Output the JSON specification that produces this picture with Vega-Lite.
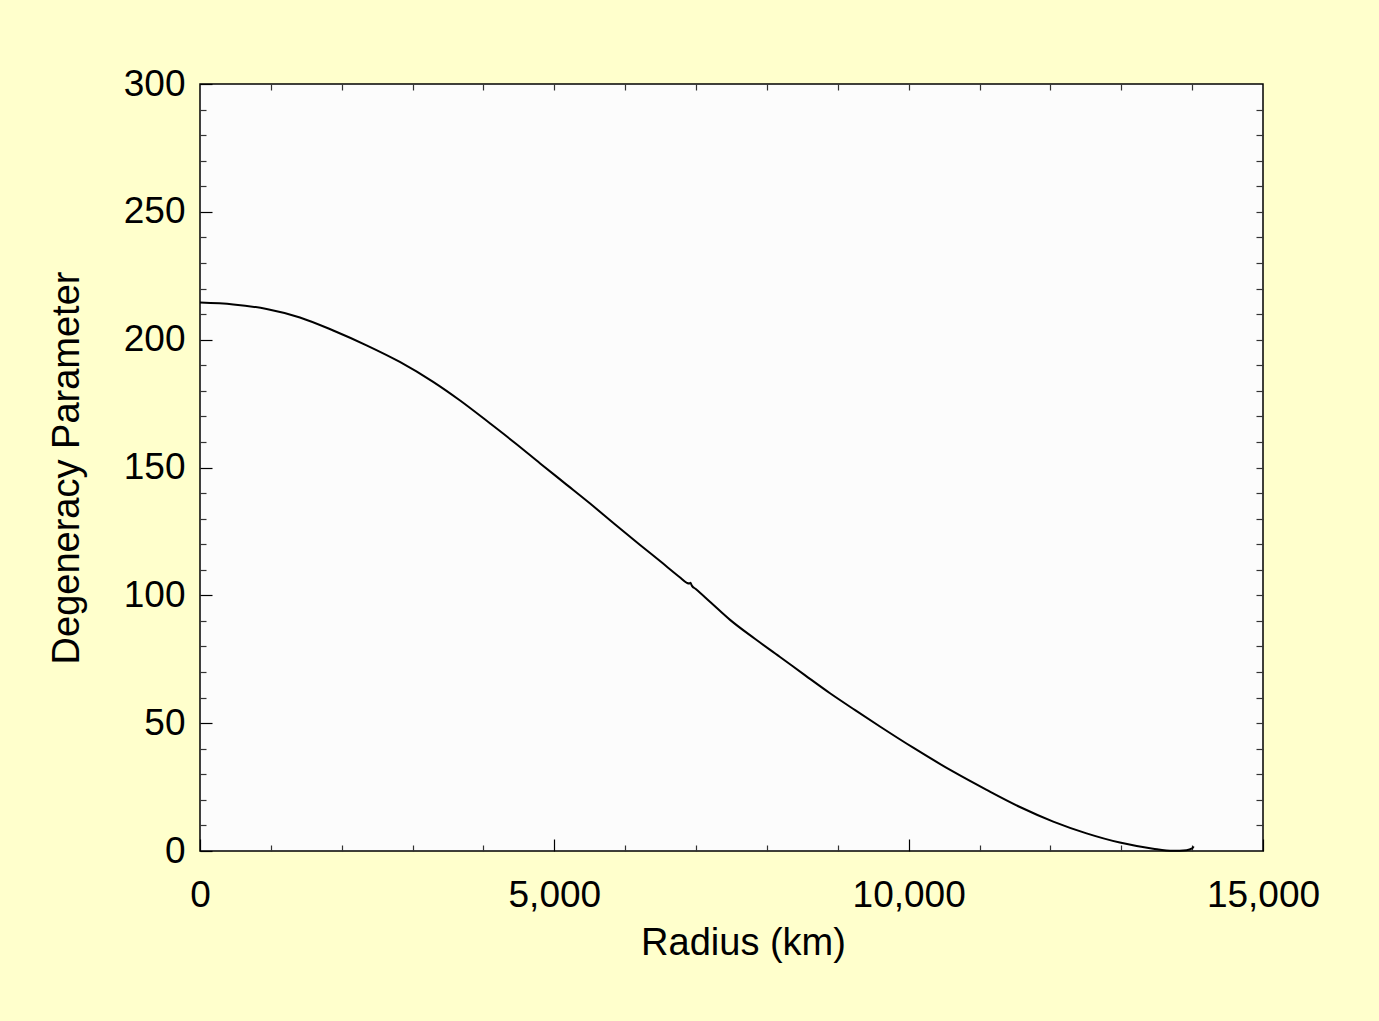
{
  "$schema": "https://vega.github.io/schema/vega-lite/v6.json",
  "autosize": {"type": "none"},
  "width": 1063,
  "height": 767,
  "padding": {"left": 200, "top": 84, "right": 116, "bottom": 170},
  "background": "#FFFFCC",
  "config": {
    "view": {"stroke": "#000000", "strokeWidth": 1.5, "fill": "#FCFCFC"},
    "font": "Liberation Sans",
    "axis": {"grid": false, "labelFlush": false, "labelFont": "Liberation Sans", "titleFont": "Liberation Sans", "labelColor": "#000000", "titleColor": "#000000", "titleFontWeight": "normal"}
  },
  "data": {
    "values": [
      {"r": 0, "d": 214.5},
      {"r": 470, "d": 213.8},
      {"r": 940, "d": 212.0},
      {"r": 1410, "d": 208.7},
      {"r": 1880, "d": 203.6},
      {"r": 2350, "d": 197.8},
      {"r": 2820, "d": 191.3},
      {"r": 3290, "d": 183.5},
      {"r": 3670, "d": 176.2},
      {"r": 4090, "d": 167.3},
      {"r": 4450, "d": 159.5},
      {"r": 4800, "d": 151.6},
      {"r": 5150, "d": 143.8},
      {"r": 5500, "d": 136.0},
      {"r": 5850, "d": 127.9},
      {"r": 6210, "d": 119.7},
      {"r": 6500, "d": 113.2},
      {"r": 6770, "d": 107.1},
      {"r": 6870, "d": 104.9},
      {"r": 6900, "d": 104.6},
      {"r": 6920, "d": 104.9},
      {"r": 6940, "d": 103.8},
      {"r": 7000, "d": 102.4},
      {"r": 7200, "d": 97.4},
      {"r": 7480, "d": 90.4},
      {"r": 7830, "d": 83.0},
      {"r": 8180, "d": 76.0},
      {"r": 8540, "d": 68.7},
      {"r": 8890, "d": 61.7},
      {"r": 9250, "d": 55.0},
      {"r": 9600, "d": 48.6},
      {"r": 10070, "d": 40.3},
      {"r": 10630, "d": 31.0},
      {"r": 11100, "d": 23.9},
      {"r": 11570, "d": 17.2},
      {"r": 12040, "d": 11.5},
      {"r": 12510, "d": 6.9},
      {"r": 12980, "d": 3.3},
      {"r": 13450, "d": 0.9},
      {"r": 13730, "d": 0.1},
      {"r": 13920, "d": 0.3},
      {"r": 14000, "d": 1.0},
      {"r": 14020, "d": 1.8}
    ]
  },
  "layer": [
    {
      "mark": {"type": "line", "color": "#000000", "strokeWidth": 2, "interpolate": "monotone"},
      "encoding": {
        "x": {"field": "r", "type": "quantitative", "scale": {"domain": [0, 15000], "nice": false, "zero": false},
          "axis": {"orient": "bottom", "values": [0, 5000, 10000, 15000], "format": ",.0f", "ticks": false, "domain": false, "labelFontSize": 37, "labelPadding": 26, "title": "Radius (km)", "titleFontSize": 38, "titlePadding": 11, "titleX": 543}},
        "y": {"field": "d", "type": "quantitative", "scale": {"domain": [0, 300], "nice": false, "zero": false},
          "axis": {"orient": "left", "values": [0, 50, 100, 150, 200, 250, 300], "format": ".0f", "ticks": false, "domain": false, "labelFontSize": 37, "labelPadding": 15, "title": "Degeneracy Parameter", "titleFontSize": 38, "titlePadding": 37}}
      }
    },
    {
      "mark": {"type": "line", "strokeOpacity": 0},
      "encoding": {
        "x": {"field": "r", "type": "quantitative", "axis": {"orient": "bottom", "values": [0, 5000, 10000, 15000], "labels": false, "domain": false, "title": null, "tickSize": -12, "tickColor": "#000000", "tickWidth": 1.2}},
        "y": {"field": "d", "type": "quantitative", "axis": {"orient": "left", "values": [0, 50, 100, 150, 200, 250, 300], "labels": false, "domain": false, "title": null, "tickSize": -12, "tickColor": "#000000", "tickWidth": 1.2}}
      }
    },
    {
      "mark": {"type": "line", "strokeOpacity": 0},
      "encoding": {
        "x": {"field": "r", "type": "quantitative", "axis": {"orient": "bottom", "values": [1000, 2000, 3000, 4000, 6000, 7000, 8000, 9000, 11000, 12000, 13000, 14000], "labels": false, "domain": false, "title": null, "tickSize": -6, "tickColor": "#333333", "tickWidth": 1.2}},
        "y": {"field": "d", "type": "quantitative", "axis": {"orient": "left", "values": [10, 20, 30, 40, 60, 70, 80, 90, 110, 120, 130, 140, 160, 170, 180, 190, 210, 220, 230, 240, 260, 270, 280, 290], "labels": false, "domain": false, "title": null, "tickSize": -6, "tickColor": "#333333", "tickWidth": 1.2}}
      }
    },
    {
      "mark": {"type": "line", "strokeOpacity": 0},
      "encoding": {
        "x": {"field": "r", "type": "quantitative", "axis": {"orient": "top", "values": [1000, 2000, 3000, 4000, 5000, 6000, 7000, 8000, 9000, 10000, 11000, 12000, 13000, 14000], "labels": false, "domain": false, "title": null, "tickSize": -6, "tickColor": "#333333", "tickWidth": 1.2}},
        "y": {"field": "d", "type": "quantitative", "axis": {"orient": "right", "values": [10, 20, 30, 40, 50, 60, 70, 80, 90, 100, 110, 120, 130, 140, 150, 160, 170, 180, 190, 200, 210, 220, 230, 240, 250, 260, 270, 280, 290], "labels": false, "domain": false, "title": null, "tickSize": -7, "tickColor": "#333333", "tickWidth": 1.2}}
      }
    }
  ],
  "resolve": {"axis": {"x": "independent", "y": "independent"}}
}
